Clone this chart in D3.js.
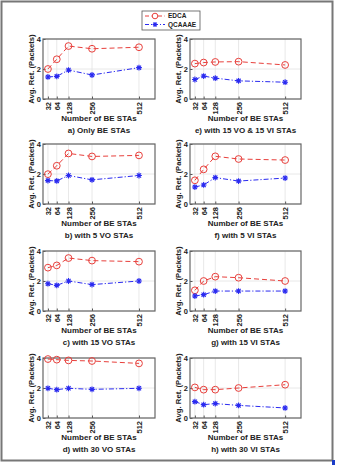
<!DOCTYPE html>
<html>
<head>
<meta charset="utf-8">
<script src="https://cdn.jsdelivr.net/npm/d3@7"></script>
<style>
  body { margin: 0; background: #fff; }
  svg { display: block; font-family: "Liberation Sans", Arial, sans-serif; font-weight: bold; }
</style>
</head>
<body>
<svg id="chart"></svg>
<script>
// Number of BE stations on the x axis and the y ticks
var beStas = [32, 64, 128, 256, 512];
var yTicks = [0, 2, 4];

// Average retransmissions per scenario
var edcaA = [2.0, 2.65, 3.53, 3.35, 3.45];
var qcaaaeA = [1.47, 1.51, 1.93, 1.6, 2.09];
var edcaB = [1.99, 2.55, 3.37, 3.17, 3.24];
var qcaaaeB = [1.56, 1.54, 1.9, 1.61, 1.9];
var edcaC = [2.89, 3.04, 3.53, 3.36, 3.29];
var qcaaaeC = [1.82, 1.71, 2.0, 1.76, 2.0];
var edcaD = [3.93, 3.89, 3.84, 3.8, 3.64];
var qcaaaeD = [1.98, 1.89, 1.98, 1.91, 1.98];
var edcaE = [2.36, 2.43, 2.47, 2.49, 2.27];
var qcaaaeE = [1.3, 1.53, 1.39, 1.21, 1.12];
var edcaF = [1.58, 2.31, 3.18, 3.0, 2.93];
var qcaaaeF = [1.13, 1.27, 1.76, 1.53, 1.73];
var edcaG = [1.38, 2.0, 2.29, 2.22, 2.0];
var qcaaaeG = [1.0, 1.09, 1.33, 1.33, 1.33];
var edcaH = [2.04, 1.89, 1.89, 2.0, 2.22];
var qcaaaeH = [1.09, 0.89, 0.96, 0.84, 0.67];

var captions = [
  "a) Only BE STAs", "b) with 5 VO STAs", "c) with 15 VO STAs", "d) with 30 VO STAs",
  "e) with 15 VO & 15 VI STAs", "f) with 5 VI STAs", "g) with 15 VI STAs", "h) with 30 VI STAs"
];
var seriesNames = ["EDCA", "QCAAAE"];

var edcaAll = [edcaA, edcaB, edcaC, edcaD, edcaE, edcaF, edcaG, edcaH];
var qcaaaeAll = [qcaaaeA, qcaaaeB, qcaaaeC, qcaaaeD, qcaaaeE, qcaaaeF, qcaaaeG, qcaaaeH];

var width = 338, height = 465;
var red = "#e8403c", blue = "#2a2af0";

var svg = d3.select("#chart")
  .attr("width", width)
  .attr("height", height);

svg.append("rect")
  .attr("width", width).attr("height", height)
  .attr("fill", "#fff");

// Outer figure frame
svg.append("rect")
  .attr("x", 1.5).attr("y", 1.5)
  .attr("width", 331).attr("height", 459)
  .attr("fill", "none")
  .attr("stroke", "#777")
  .attr("stroke-width", 2);
svg.append("rect")
  .attr("x", 332).attr("y", 460)
  .attr("width", 3).attr("height", 5)
  .attr("fill", "#1a3cc8");

// Panel placement: two columns, four rows
var colX = [43, 190];
var plotW = [112, 111];
var rowY = [39, 144, 251, 358];
var plotH = 60;

var line = d3.line();
var intFmt = d3.format("d");

function drawAsterisk(g, r) {
  var d = 0.72 * r;
  g.append("path")
    .attr("d", "M" + (-r) + ",0H" + r + "M0," + (-r) + "V" + r +
      "M" + (-d) + "," + (-d) + "L" + d + "," + d +
      "M" + (-d) + "," + d + "L" + d + "," + (-d))
    .attr("stroke", blue)
    .attr("stroke-width", 1.1)
    .attr("fill", "none");
}

captions.forEach(function(caption, i) {
  var col = Math.floor(i / 4), row = i % 4;
  var x0 = colX[col], w = plotW[col], y0 = rowY[row];

  // x positions: 32 and 64 sit a little apart at the left edge, the rest run linearly
  var x = d3.scaleLinear()
    .domain([32, 64, 512])
    .range([x0 + 0.044 * w, x0 + 0.123 * w, x0 + 0.857 * w]);
  var y = d3.scaleLinear().domain([0, 4]).range([y0 + plotH, y0]);

  var g = svg.append("g");

  // Grid
  g.selectAll(".vgrid").data(beStas).enter()
    .append("line")
    .attr("x1", function(d) { return x(d); }).attr("x2", function(d) { return x(d); })
    .attr("y1", y0).attr("y2", y0 + plotH)
    .attr("stroke", "#e2e2e2").attr("stroke-width", 0.8);
  g.selectAll(".hgrid").data(yTicks).enter()
    .append("line")
    .attr("x1", x0).attr("x2", x0 + w)
    .attr("y1", function(d) { return y(d); }).attr("y2", function(d) { return y(d); })
    .attr("stroke", "#e2e2e2").attr("stroke-width", 0.8);

  // Axes with inward ticks
  var xAxis = g.append("g")
    .attr("transform", "translate(0," + (y0 + plotH) + ")")
    .call(d3.axisBottom(x).tickValues(beStas).tickFormat(intFmt).tickSizeInner(-2.5).tickSizeOuter(0));
  xAxis.select(".domain").remove();
  xAxis.selectAll("line").attr("stroke", "#555");
  xAxis.selectAll("text")
    .attr("transform", "rotate(-90)")
    .attr("x", -3).attr("y", 0).attr("dy", "0.35em")
    .style("text-anchor", "end")
    .style("font-size", "7.5px")
    .style("font-family", "Liberation Sans, Arial, sans-serif")
    .style("font-weight", "bold")
    .attr("fill", "#222");

  var yAxis = g.append("g")
    .attr("transform", "translate(" + x0 + ",0)")
    .call(d3.axisLeft(y).tickValues(yTicks).tickFormat(intFmt).tickSizeInner(-2.5).tickSizeOuter(0).tickPadding(2));
  yAxis.select(".domain").remove();
  yAxis.selectAll("line").attr("stroke", "#555");
  yAxis.selectAll("text")
    .style("font-size", "7.5px")
    .style("font-family", "Liberation Sans, Arial, sans-serif")
    .style("font-weight", "bold")
    .attr("fill", "#222");

  // Axes box
  g.append("rect")
    .attr("x", x0).attr("y", y0)
    .attr("width", w).attr("height", plotH)
    .attr("fill", "none")
    .attr("stroke", "#666")
    .attr("stroke-width", 1.2);

  // Labels
  g.append("text")
    .attr("transform", "translate(" + (x0 - 9.5) + "," + (y0 + plotH / 2) + ") rotate(-90)")
    .attr("text-anchor", "middle")
    .style("font-size", "7.7px")
    .attr("fill", "#222")
    .text("Avg. Ret. (Packets)");
  g.append("text")
    .attr("x", x0 + w / 2).attr("y", y0 + plotH + 22)
    .attr("text-anchor", "middle")
    .style("font-size", "8px")
    .attr("fill", "#222")
    .text("Number of BE STAs");
  g.append("text")
    .attr("x", x0 + w / 2).attr("y", y0 + plotH + 34)
    .attr("text-anchor", "middle")
    .style("font-size", "8px")
    .attr("fill", "#222")
    .text(caption);

  // EDCA: dashed red with open circles
  var edca = edcaAll[i].map(function(v, k) { return [x(beStas[k]), y(v)]; });
  g.append("path")
    .attr("d", line(edca))
    .attr("fill", "none")
    .attr("stroke", red)
    .attr("stroke-width", 1)
    .attr("stroke-dasharray", "5,3");
  g.selectAll(".edca").data(edca).enter()
    .append("circle")
    .attr("cx", function(d) { return d[0]; })
    .attr("cy", function(d) { return d[1]; })
    .attr("r", 3.4)
    .attr("fill", "none")
    .attr("stroke", red)
    .attr("stroke-width", 1);

  // QCAAAE: dash-dot blue with asterisks
  var qc = qcaaaeAll[i].map(function(v, k) { return [x(beStas[k]), y(v)]; });
  g.append("path")
    .attr("d", line(qc))
    .attr("fill", "none")
    .attr("stroke", blue)
    .attr("stroke-width", 1)
    .attr("stroke-dasharray", "5,2,1.2,2");
  qc.forEach(function(p) {
    drawAsterisk(g.append("g").attr("transform", "translate(" + p[0] + "," + p[1] + ")"), 2.9);
  });
});

// Legend
var legend = svg.append("g").attr("transform", "translate(142,11)");
legend.append("rect")
  .attr("width", 58).attr("height", 19)
  .attr("fill", "#fff")
  .attr("stroke", "#555")
  .attr("stroke-width", 0.8);
seriesNames.forEach(function(name, k) {
  var ly = 5 + k * 8.5;
  var c = k === 0 ? red : blue;
  legend.append("line")
    .attr("x1", 3).attr("x2", 23)
    .attr("y1", ly).attr("y2", ly)
    .attr("stroke", c).attr("stroke-width", 1)
    .attr("stroke-dasharray", k === 0 ? "4,2.5" : "4,2,1,2");
  if (k === 0) {
    legend.append("circle")
      .attr("cx", 13).attr("cy", ly).attr("r", 2.8)
      .attr("fill", "#fff").attr("stroke", red).attr("stroke-width", 1);
  } else {
    drawAsterisk(legend.append("g").attr("transform", "translate(13," + ly + ")"), 2.5);
  }
  legend.append("text")
    .attr("x", 26).attr("y", ly).attr("dy", "0.35em")
    .style("font-size", "6.5px")
    .attr("fill", "#222")
    .text(name);
});
</script>
</body>
</html>
